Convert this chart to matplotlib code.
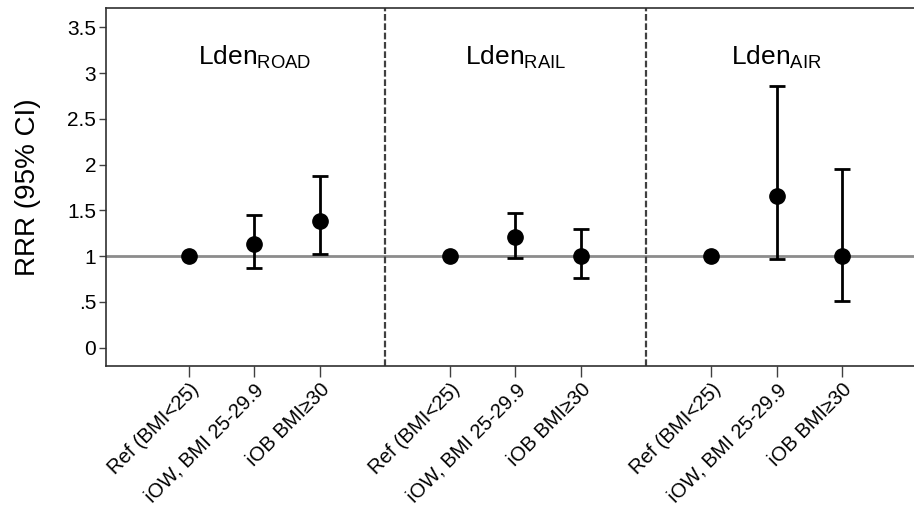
import numpy as np
import matplotlib
matplotlib.use('Agg')
import matplotlib.pyplot as plt

plt.rcParams['font.family'] = ['Liberation Sans', 'DejaVu Sans']
plt.rcParams['mathtext.fontset'] = 'custom'
plt.rcParams['mathtext.rm'] = 'Liberation Sans'

groups = ['ROAD', 'RAIL', 'AIR']
categories = ['Ref (BMI<25)', 'iOW, BMI 25-29.9', 'iOB BMI\u226530']
rrr = [[1.0, 1.13, 1.39],
       [1.0, 1.21, 1.00],
       [1.0, 1.66, 1.00]]
ci_low = [[1.0, 0.87, 1.02],
          [1.0, 0.98, 0.76],
          [1.0, 0.97, 0.51]]
ci_high = [[1.0, 1.45, 1.88],
           [1.0, 1.47, 1.30],
           [1.0, 2.86, 1.95]]
yticks = [0, 0.5, 1, 1.5, 2, 2.5, 3, 3.5]
ytick_labels = ['0', '.5', '1', '1.5', '2', '2.5', '3', '3.5']

fig = plt.figure(figsize=(9.14, 5.13), dpi=100)
# the plot box runs off the right edge of the picture
ax = fig.add_axes([0.116, 0.2865, 0.896, 0.6975])

ax.axhline(1, color='#8c8c8c', lw=2, zorder=1)

xpos, xlabels = [], []
for g, name in enumerate(groups):
    x = np.arange(3) + 1 + 4 * g
    y = np.array(rrr[g])
    lo = y - np.array(ci_low[g])
    hi = np.array(ci_high[g]) - y
    has_ci = (lo + hi) > 0
    ax.errorbar(x[has_ci], y[has_ci], yerr=[lo[has_ci], hi[has_ci]], fmt='none',
                ecolor='black', elinewidth=2, capsize=6, capthick=2, zorder=2)
    ax.plot(x, y, 'o', color='black', ms=11, zorder=3)
    ax.text(x[1], 3.09, r'$\mathrm{Lden}_{\mathrm{%s}}$' % name, ha='center', va='baseline',
            fontsize=19)
    xpos += list(x)
    xlabels += categories
    if g > 0:
        ax.axvline(4 * g, color='#404040', lw=1.6, ls=(0, (3, 1.2)), zorder=1)

ax.set_xlim(-0.27, 12.27)
ax.set_ylim(-0.2, 3.71)
ax.set_yticks(yticks)
ax.set_yticklabels(ytick_labels, fontsize=15)
ax.set_xticks(xpos)
ax.set_xticklabels(xlabels, rotation=45, ha='right', rotation_mode='anchor', fontsize=14.5)
ax.tick_params(axis='y', length=5, width=1, color='#404040', pad=2)
ax.tick_params(axis='x', length=8, width=1, color='#404040', pad=2)
for s in ax.spines.values():
    s.set_color('#303030')
    s.set_linewidth(1.2)
ax.spines['right'].set_visible(False)
ax.set_ylabel('RRR (95% CI)', fontsize=20, va='center')
ax.yaxis.set_label_coords(-0.095, 0.5)

fig.savefig('out.png', dpi=100)
